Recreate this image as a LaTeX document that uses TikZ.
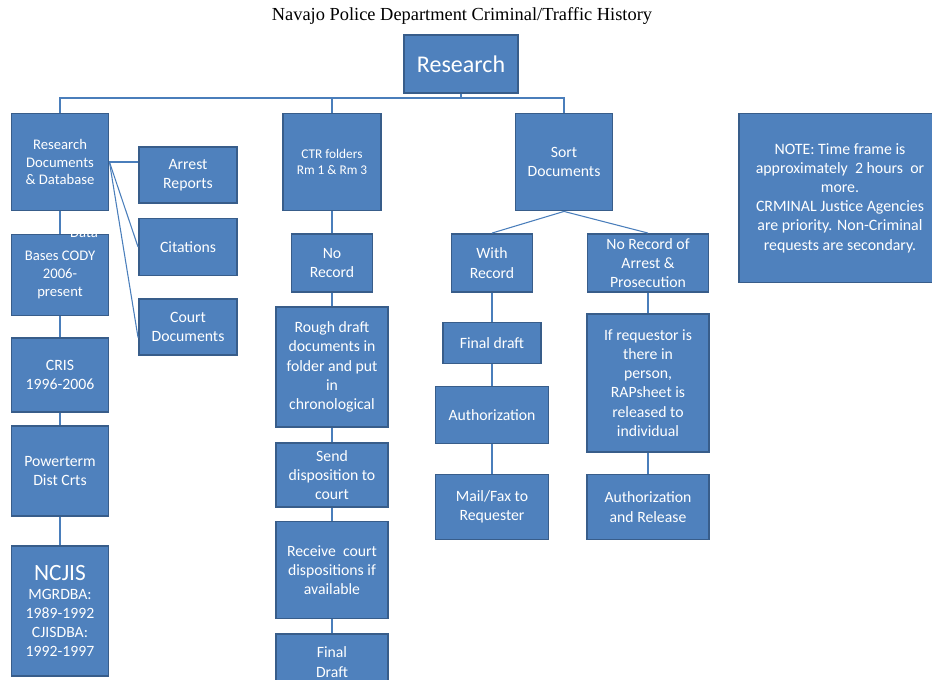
\documentclass[tikz,border=0pt]{standalone}
\usepackage{fontspec}
\setmainfont{Carlito}
\newfontfamily\titlefont{Liberation Serif}
\usepackage{tikz}
\usetikzlibrary{positioning}
\definecolor{boxblue}{HTML}{4F81BD}
\definecolor{boxline}{HTML}{385D8A}
\definecolor{linkblue}{HTML}{4A7EBB}
\tikzset{box/.style={rectangle, draw=boxline, fill=boxblue, text=white, line width=1.4pt,
                     align=center, inner sep=0pt, font=\fontsize{11.8}{14.4}\selectfont},
         small/.style={font=\fontsize{11}{13.2}\selectfont},
         link/.style={draw=linkblue, line width=0.8pt}}

\begin{document}
\begin{tikzpicture} [x=0.75pt, y=-0.75pt]
        \useasboundingbox (0,0) rectangle (932,680);
        \node[font=\titlefont\fontsize{13.8}{16}\selectfont] (title) at (462,16) {Navajo Police Department Criminal/Traffic History};
        \node[box, minimum width=85.5pt, minimum height=43.5pt, font=\fontsize{18}{21}\selectfont] (top) at (461,64) {Research};
        \coordinate (bus) at (461,98);
        % left column
        \node[box, small, minimum width=72.75pt, minimum height=72.75pt] (rd) at (60,162) {Research\\Documents\\\& Database};
        \node[box, minimum width=73.5pt, minimum height=42pt] (arrest) at (188,175) {Arrest\\Reports};
        \node[box, minimum width=73.5pt, minimum height=42.75pt] (cit) at (188,247) {Citations};
        \node[box, minimum width=73.5pt, minimum height=42pt] (court) at (188,327) {Court\\Documents};
        \node[box, small, minimum width=72.75pt, minimum height=60.75pt] (cody) at (60,275) {Bases CODY\\2006-\\present};
        \node[text=white, small] (data) at (84,233) {Data};
        \node[box, minimum width=72.75pt, minimum height=55.5pt] (cris) at (60,375) {CRIS\\1996-2006};
        \node[box, minimum width=72.75pt, minimum height=67.5pt] (power) at (60,471) {Powerterm\\Dist Crts};
        \node[box, minimum width=72.75pt, minimum height=97.5pt] (ncjis) at (60,611) {{\fontsize{17.5}{19}\selectfont NCJIS}\\MGRDBA:\\1989-1992\\CJISDBA:\\1992-1997};
        % middle column
        \node[box, minimum width=73.5pt, minimum height=72.75pt, font=\fontsize{10}{12.5}\selectfont] (ctr) at (332,162) {CTR folders\\Rm 1 \& Rm 3};
        \node[box, minimum width=60.75pt, minimum height=43.5pt] (norec) at (332,263) {No\\Record};
        \node[box, minimum width=84pt, minimum height=90pt] (rough) at (332,367) {Rough draft\\documents in\\folder and put\\in\\chronological};
        \node[box, minimum width=84pt, minimum height=48pt] (send) at (332,475) {Send\\disposition to\\court};
        \node[box, minimum width=84pt, minimum height=72.75pt] (receive) at (332,570) {Receive\ \ court\\dispositions if\\available};
        \node[box, minimum width=84pt, minimum height=42pt] (final) at (332,662) {Final\\Draft};
        % right column
        \node[box, minimum width=72.75pt, minimum height=72.75pt] (sort) at (564,162) {Sort\\Documents};
        \node[box, minimum width=60.75pt, minimum height=43.5pt] (withrec) at (492,263) {With\\Record};
        \node[box, minimum width=90.75pt, minimum height=43.5pt] (noarrest) at (648,263) {No Record of\\Arrest \&\\Prosecution};
        \node[box, minimum width=73.5pt, minimum height=30.75pt] (fdraft) at (492,343) {Final draft};
        \node[box, minimum width=84.75pt, minimum height=42.75pt] (auth) at (492,415) {Authorization};
        \node[box, minimum width=84.75pt, minimum height=48.75pt] (mail) at (492,507) {Mail/Fax to\\Requester};
        \node[box, minimum width=91.5pt, minimum height=103.5pt] (ifreq) at (648,383) {If requestor is\\there in\\person,\\RAPsheet is\\released to\\individual};
        \node[box, minimum width=91.5pt, minimum height=48.75pt] (authrel) at (648,507) {Authorization\\and Release};
        \node[box, minimum width=151.5pt, minimum height=126.75pt, font=\fontsize{11.9}{14.4}\selectfont] (note) at (840,198) {NOTE: Time frame is\\approximately\ \ 2 hours\ \ or\\more.\\CRMINAL Justice Agencies\\are priority. Non-Criminal\\requests are secondary.};
        \draw[link] (top.south) -- (top.south |- bus);
        \draw[link] (rd.north) -- (rd.north |- bus) -- (sort.north |- bus) -- (sort.north);
        \draw[link] (ctr.north) -- (ctr.north |- bus);
        \draw[link] (rd.east) -- (rd.east -| arrest.west);
        \draw[link] (rd.east) -- (cit.west);
        \draw[link] (rd.east) -- ([yshift=-8pt]court.west);
        \draw[link] (rd.south) -- (cody.north);
        \draw[link] (cody.south) -- (cris.north);
        \draw[link] (cris.south) -- (power.north);
        \draw[link] (power.south) -- (ncjis.north);
        \draw[link] (ctr.south) -- (norec.north);
        \draw[link] (norec.south) -- (rough.north);
        \draw[link] (rough.south) -- (send.north);
        \draw[link] (send.south) -- (receive.north);
        \draw[link] (receive.south) -- (final.north);
        \draw[link] (sort.south) -- (withrec.north);
        \draw[link] (sort.south) -- (noarrest.north);
        \draw[link] (withrec.south) -- (fdraft.north);
        \draw[link] (fdraft.south) -- (auth.north);
        \draw[link] (auth.south) -- (mail.north);
        \draw[link] (noarrest.south) -- (ifreq.north);
        \draw[link] (ifreq.south) -- (authrel.north);
    \end{tikzpicture}
\end{document}
